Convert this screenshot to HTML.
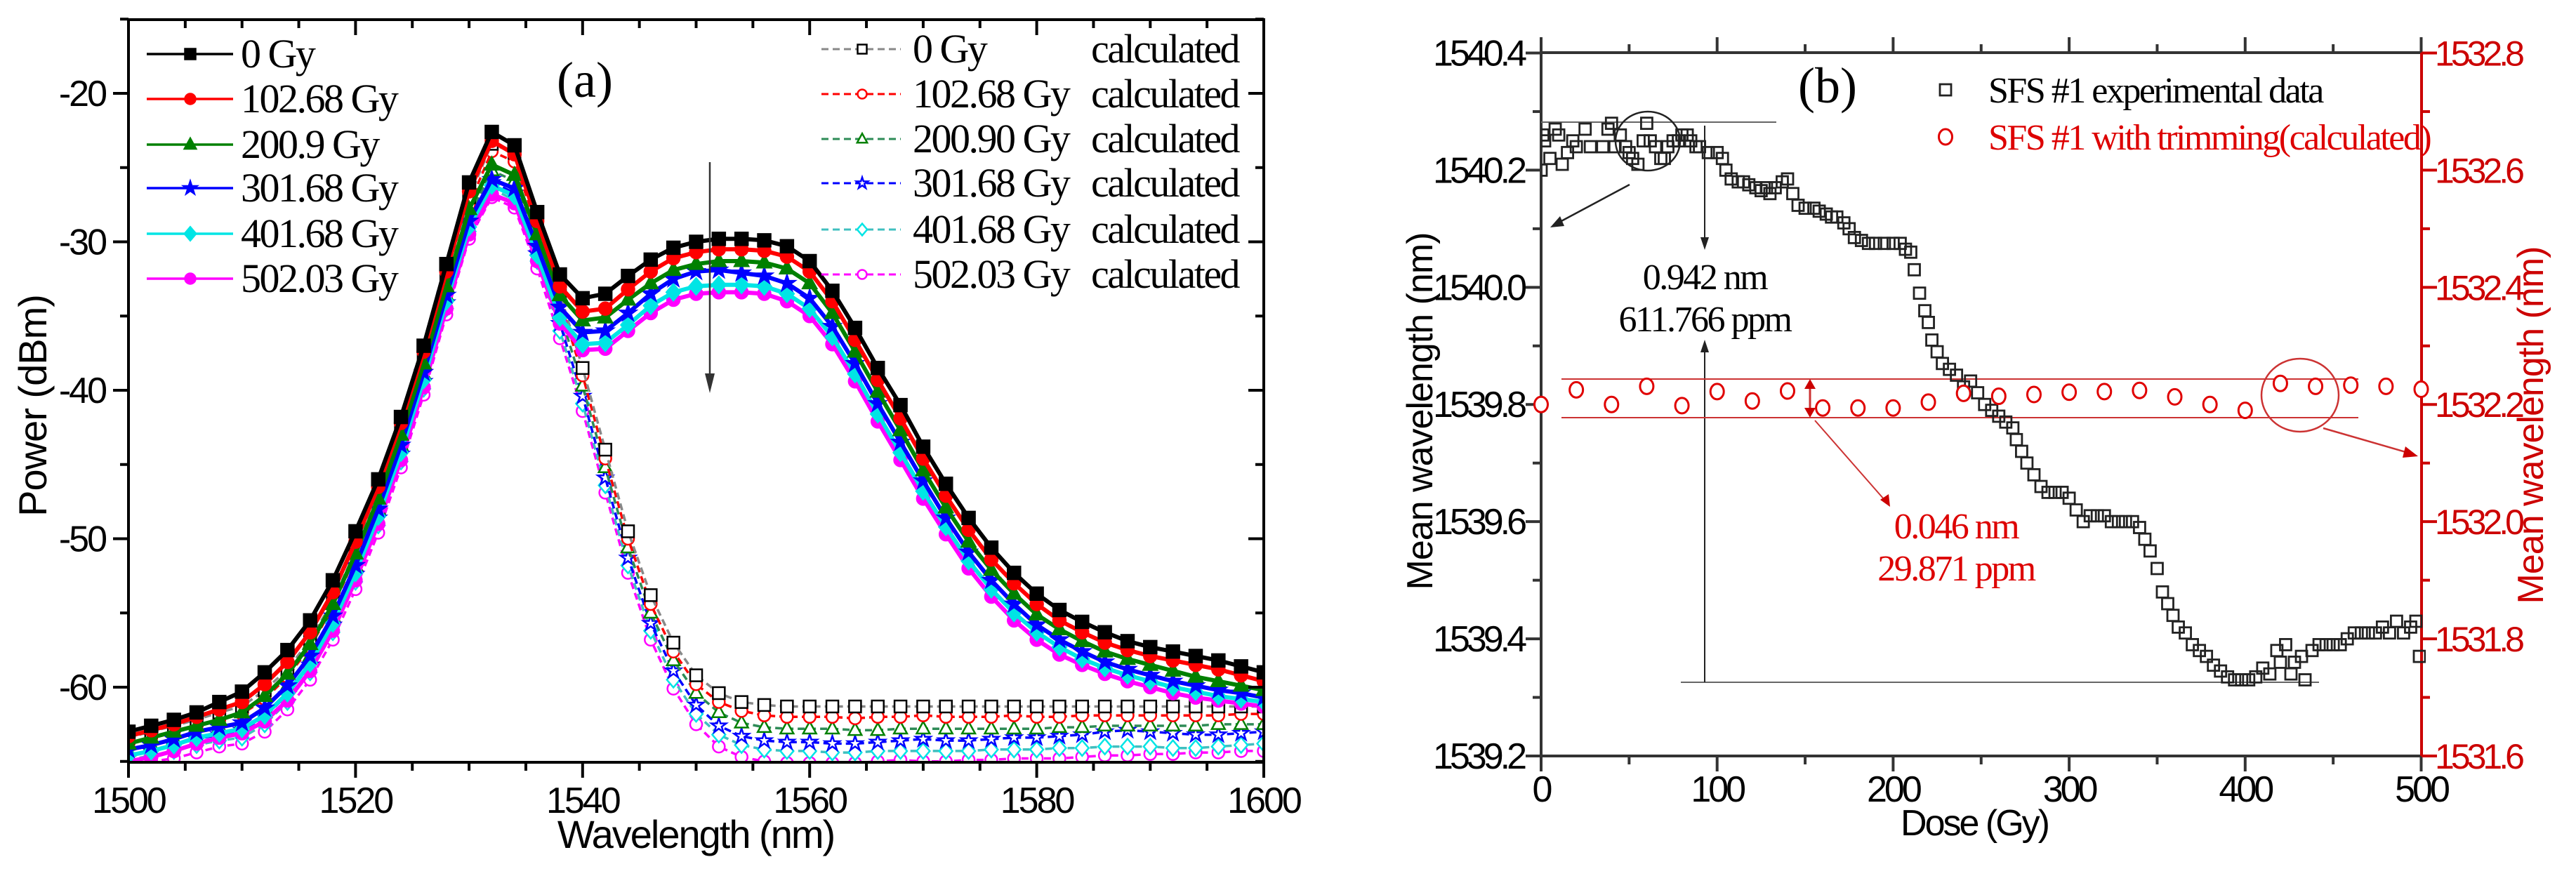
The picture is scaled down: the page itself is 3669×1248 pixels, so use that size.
<!DOCTYPE html>
<html><head><meta charset="utf-8"><style>
html,body{margin:0;padding:0;background:#fff;}
svg{display:block;}
.sans{font-family:"Liberation Sans",Arial,sans-serif;}
.serif{font-family:"Liberation Serif","Times New Roman",serif;}
</style></head><body>
<svg id="fig" width="3669" height="1248" viewBox="0 0 3669 1248" xmlns="http://www.w3.org/2000/svg">
<defs>
<clipPath id="clipA"><rect x="183" y="28" width="1617" height="1058"/></clipPath>
<clipPath id="clipB"><rect x="2195" y="75" width="1260" height="1003"/></clipPath>
</defs>
<g id="panelA"></g>
<g id="panelB"></g>
</svg>
<script>
// ---------- Panel (a) data ----------
const wl = [1500,1502,1504,1506,1508,1510,1512,1514,1516,1518,1520,1522,1524,1526,1528,1530,1532,1534,1536,1538,1540,1542,1544,1546,1548,1550,1552,1554,1556,1558,1560,1562,1564,1566,1568,1570,1572,1574,1576,1578,1580,1582,1584,1586,1588,1590,1592,1594,1596,1598,1600];
const exp0 = [-63.0,-62.6,-62.2,-61.7,-61.0,-60.3,-59.0,-57.5,-55.5,-52.8,-49.5,-46.0,-41.8,-37.0,-31.5,-26.0,-22.6,-23.5,-28.0,-32.2,-33.8,-33.5,-32.3,-31.2,-30.4,-30.0,-29.8,-29.8,-29.9,-30.3,-31.3,-33.3,-35.8,-38.5,-41.0,-43.8,-46.3,-48.6,-50.6,-52.3,-53.7,-54.8,-55.6,-56.3,-56.9,-57.3,-57.6,-57.9,-58.2,-58.6,-59.0];
const exp102 = [-63.3,-62.9,-62.5,-62.0,-61.5,-61.0,-59.8,-58.3,-56.3,-53.6,-50.2,-46.5,-42.2,-37.4,-32.0,-26.6,-23.2,-24.1,-28.6,-33.0,-34.7,-34.5,-33.2,-32.0,-31.1,-30.7,-30.5,-30.5,-30.6,-31.0,-32.0,-34.0,-36.6,-39.3,-41.9,-44.6,-47.1,-49.4,-51.4,-53.0,-54.4,-55.5,-56.3,-57.0,-57.5,-57.9,-58.2,-58.5,-58.8,-59.2,-59.6];
const exp200 = [-63.8,-63.4,-63.0,-62.6,-62.2,-61.7,-60.6,-59.1,-57.1,-54.4,-51.0,-47.3,-43.0,-38.2,-33.0,-27.8,-24.8,-25.5,-29.5,-33.6,-35.3,-35.1,-33.9,-32.8,-31.9,-31.5,-31.3,-31.3,-31.4,-31.8,-32.8,-34.8,-37.4,-40.1,-42.7,-45.4,-47.9,-50.2,-52.1,-53.7,-55.1,-56.1,-56.9,-57.6,-58.1,-58.5,-58.9,-59.3,-59.6,-59.9,-60.2];
const exp301 = [-64.2,-63.9,-63.5,-63.0,-62.7,-62.4,-61.4,-59.9,-57.9,-55.2,-51.8,-48.0,-43.7,-38.8,-33.6,-28.6,-25.8,-26.4,-30.3,-34.4,-36.1,-36.0,-34.8,-33.5,-32.5,-32.0,-31.9,-32.1,-32.3,-32.8,-33.8,-35.7,-38.2,-40.9,-43.5,-46.1,-48.6,-50.9,-52.8,-54.4,-55.8,-56.8,-57.6,-58.3,-58.8,-59.2,-59.6,-59.9,-60.2,-60.4,-60.7];
const exp401 = [-64.6,-64.3,-63.9,-63.4,-63.1,-62.8,-61.9,-60.4,-58.4,-55.7,-52.3,-48.5,-44.2,-39.3,-34.0,-29.0,-26.2,-26.9,-30.9,-35.1,-36.9,-36.8,-35.6,-34.3,-33.4,-33.0,-32.9,-32.9,-33.0,-33.5,-34.5,-36.4,-38.9,-41.6,-44.2,-46.8,-49.2,-51.5,-53.4,-55.0,-56.3,-57.3,-58.1,-58.7,-59.2,-59.6,-60.0,-60.3,-60.6,-60.8,-61.0];
const exp502 = [-65.0,-64.7,-64.3,-63.8,-63.4,-63.1,-62.3,-60.9,-58.9,-56.2,-52.8,-49.0,-44.7,-39.8,-34.5,-29.5,-26.8,-27.4,-31.3,-35.5,-37.3,-37.2,-36.0,-34.8,-33.9,-33.5,-33.4,-33.4,-33.5,-34.0,-35.0,-36.9,-39.4,-42.1,-44.7,-47.3,-49.7,-52.0,-53.9,-55.5,-56.8,-57.8,-58.5,-59.1,-59.6,-60.0,-60.4,-60.7,-60.9,-61.1,-61.3];
const calc0 = [-63.4,-63.0,-62.6,-62.2,-61.7,-61.3,-60.2,-58.8,-56.8,-54.2,-50.8,-47.0,-42.8,-38.0,-32.6,-27.0,-23.4,-24.0,-28.5,-33.5,-38.5,-44.0,-49.5,-53.8,-57.0,-59.2,-60.4,-61.0,-61.2,-61.3,-61.3,-61.3,-61.3,-61.3,-61.3,-61.3,-61.3,-61.3,-61.3,-61.3,-61.3,-61.3,-61.3,-61.3,-61.3,-61.3,-61.3,-61.3,-61.3,-61.3,-61.3];
const calc102 = [-63.8,-63.4,-63.0,-62.6,-62.2,-61.8,-60.8,-59.3,-57.3,-54.6,-51.2,-47.4,-43.1,-38.3,-33.0,-27.5,-23.9,-24.6,-29.0,-34.0,-39.0,-44.6,-50.0,-54.4,-57.6,-59.8,-61.0,-61.6,-61.9,-62.0,-62.0,-62.0,-62.1,-62.0,-62.0,-61.9,-62.0,-62.0,-62.0,-61.9,-62.0,-62.0,-61.9,-61.9,-61.9,-61.9,-61.9,-61.9,-61.9,-61.8,-61.8];
const calc200 = [-64.3,-63.9,-63.5,-63.1,-62.7,-62.4,-61.4,-59.9,-57.9,-55.2,-51.8,-48.0,-43.7,-38.9,-33.6,-28.3,-25.2,-25.9,-30.0,-34.8,-39.7,-45.2,-50.6,-55.0,-58.2,-60.4,-61.7,-62.4,-62.7,-62.8,-62.8,-62.8,-62.9,-62.9,-62.8,-62.8,-62.8,-62.8,-62.8,-62.8,-62.8,-62.7,-62.7,-62.6,-62.6,-62.6,-62.6,-62.6,-62.5,-62.5,-62.5];
const calc301 = [-64.6,-64.3,-63.9,-63.5,-63.2,-62.9,-62.0,-60.5,-58.5,-55.8,-52.4,-48.6,-44.3,-39.4,-34.1,-28.9,-26.0,-26.7,-30.8,-35.5,-40.4,-45.9,-51.3,-55.7,-58.9,-61.2,-62.6,-63.3,-63.6,-63.7,-63.7,-63.8,-63.8,-63.7,-63.6,-63.5,-63.6,-63.6,-63.5,-63.4,-63.4,-63.3,-63.2,-63.0,-62.9,-63.0,-63.1,-63.2,-63.2,-63.1,-63.0];
const calc401 = [-64.9,-64.6,-64.3,-63.9,-63.6,-63.4,-62.5,-61.0,-59.0,-56.3,-52.9,-49.1,-44.8,-39.9,-34.5,-29.3,-26.4,-27.2,-31.3,-36.0,-40.9,-46.4,-51.8,-56.2,-59.5,-61.8,-63.2,-63.9,-64.2,-64.3,-64.3,-64.4,-64.4,-64.3,-64.3,-64.3,-64.3,-64.3,-64.2,-64.2,-64.2,-64.1,-64.1,-64.0,-64.0,-64.0,-64.1,-64.1,-64.0,-63.9,-63.8];
const calc502 = [-65.3,-65.0,-64.8,-64.4,-64.0,-63.8,-63.0,-61.5,-59.5,-56.8,-53.4,-49.6,-45.2,-40.3,-34.9,-29.8,-27.0,-27.7,-31.8,-36.5,-41.4,-46.9,-52.3,-56.8,-60.1,-62.5,-64.0,-64.7,-65.0,-65.1,-65.1,-65.1,-65.1,-65.0,-64.9,-65.0,-65.0,-64.9,-64.9,-64.8,-64.8,-64.8,-64.7,-64.6,-64.6,-64.5,-64.5,-64.4,-64.4,-64.3,-64.3];
const expLabels = ["0 Gy","102.68 Gy","200.9 Gy","301.68 Gy","401.68 Gy","502.03 Gy"];
const calcLabels = ["0 Gy","102.68 Gy","200.90 Gy","301.68 Gy","401.68 Gy","502.03 Gy"];
const xTicksA = [1500,1520,1540,1560,1580,1600];
const yTicksA = [-20,-30,-40,-50,-60];

// ---------- Panel (b) data ----------
const doseExp = [0,1,2,5,8,10,12,15,18,20,25,28,35,38,40,42,45,48,50,52,55,58,60,62,65,68,70,72,75,78,80,83,85,88,90,95,100,103,105,108,112,115,118,122,125,128,130,133,137,140,143,146,150,155,158,162,165,168,172,175,178,182,186,190,195,200,204,207,210,212,215,218,220,222,225,228,232,236,240,244,248,252,256,260,264,268,270,273,276,280,284,288,292,296,300,304,308,312,316,320,324,328,332,336,340,343,346,350,353,356,359,362,366,370,374,378,382,386,390,394,398,402,406,410,414,418,420,423,426,428,432,434,438,442,446,450,454,458,462,466,470,474,478,482,486,490,494,497,499];
const wlExp = [1540.20,1540.26,1540.25,1540.22,1540.27,1540.26,1540.21,1540.23,1540.25,1540.24,1540.27,1540.24,1540.24,1540.27,1540.28,1540.24,1540.26,1540.24,1540.23,1540.22,1540.21,1540.25,1540.28,1540.25,1540.24,1540.22,1540.22,1540.24,1540.25,1540.25,1540.26,1540.26,1540.25,1540.24,1540.24,1540.23,1540.23,1540.22,1540.20,1540.185,1540.18,1540.18,1540.175,1540.17,1540.165,1540.17,1540.16,1540.17,1540.18,1540.185,1540.16,1540.14,1540.135,1540.135,1540.13,1540.125,1540.12,1540.12,1540.11,1540.10,1540.085,1540.08,1540.075,1540.075,1540.075,1540.075,1540.075,1540.065,1540.06,1540.03,1539.99,1539.96,1539.94,1539.91,1539.89,1539.87,1539.86,1539.85,1539.83,1539.84,1539.82,1539.80,1539.79,1539.78,1539.77,1539.76,1539.74,1539.72,1539.70,1539.68,1539.66,1539.65,1539.65,1539.65,1539.64,1539.62,1539.60,1539.61,1539.61,1539.61,1539.60,1539.60,1539.60,1539.60,1539.59,1539.57,1539.55,1539.52,1539.48,1539.46,1539.44,1539.42,1539.41,1539.39,1539.38,1539.37,1539.355,1539.345,1539.335,1539.33,1539.33,1539.33,1539.335,1539.35,1539.34,1539.38,1539.36,1539.39,1539.34,1539.36,1539.37,1539.33,1539.38,1539.39,1539.39,1539.39,1539.39,1539.40,1539.41,1539.41,1539.41,1539.41,1539.42,1539.41,1539.43,1539.41,1539.42,1539.43,1539.37];
const doseCalc = [0,20,40,60,80,100,120,140,160,180,200,220,240,260,280,300,320,340,360,380,400,420,440,460,480,500];
const wlCalc = [1532.200,1532.225,1532.200,1532.231,1532.198,1532.222,1532.206,1532.223,1532.194,1532.194,1532.194,1532.204,1532.219,1532.214,1532.217,1532.221,1532.222,1532.224,1532.213,1532.200,1532.190,1532.236,1532.231,1532.233,1532.231,1532.226];
const xTicksB = [0,100,200,300,400,500];
const yTicksBL = [1539.2,1539.4,1539.6,1539.8,1540.0,1540.2,1540.4];
const yTicksBR = [1531.6,1531.8,1532.0,1532.2,1532.4,1532.6,1532.8];

const NS = "http://www.w3.org/2000/svg";
function mk(parent, tag, attrs){ const e=document.createElementNS(NS,tag); for(const k in attrs) e.setAttribute(k,attrs[k]); parent.appendChild(e); return e; }

const xA = v => 183 + (v-1500)*16.17;
const yA = v => 133 + (-20-v)*21.15;
const xB = d => 2195 + d*2.507;
const yBL = v => 1077 - (v-1539.2)*834.6;
const yBR = v => 1077 - (v-1531.6)*834.6;

function marker(g, shape, x, y, s, color, filled){
  const fill = filled ? color : "#fff";
  const sw = 2.5;
  let e;
  if(shape==="square") e = mk(g,"rect",{x:x-s,y:y-s,width:2*s,height:2*s,fill:fill,stroke:color,"stroke-width":sw});
  else if(shape==="circle") e = mk(g,"circle",{cx:x,cy:y,r:s,fill:fill,stroke:color,"stroke-width":sw});
  else if(shape==="tri") e = mk(g,"polygon",{points:`${x},${y-s*1.2} ${x+s*1.1},${y+s*0.8} ${x-s*1.1},${y+s*0.8}`,fill:fill,stroke:color,"stroke-width":sw});
  else if(shape==="diamond") e = mk(g,"polygon",{points:`${x},${y-s*1.3} ${x+s*1.1},${y} ${x},${y+s*1.3} ${x-s*1.1},${y}`,fill:fill,stroke:color,"stroke-width":sw});
  else if(shape==="star"){ let p=[]; for(let i=0;i<10;i++){const r=i%2?s*0.5:s*1.3; const a=-Math.PI/2+i*Math.PI/5; p.push((x+r*Math.cos(a)).toFixed(1)+","+(y+r*Math.sin(a)).toFixed(1));} e = mk(g,"polygon",{points:p.join(" "),fill:fill,stroke:color,"stroke-width":sw}); }
  return e;
}

// ================= Panel A =================
const A = document.getElementById("panelA");
const expSeries = [exp0,exp102,exp200,exp301,exp401,exp502];
const calcSeries = [calc0,calc102,calc200,calc301,calc401,calc502];
const colors = ["#000000","#ff0000","#008000","#0000ff","#00e5e5","#ff00ff"];
const calcLineColors = ["#888888","#ff0000","#2e8b57","#0000ff","#40bfbf","#ff00ff"];
const shapesExp = ["square","circle","tri","star","diamond","circle"];
const shapesCalc = ["square","circle","tri","star","diamond","circle"];

const dataA = mk(A,"g",{"clip-path":"url(#clipA)"});



for(let k=5;k>=0;k--){
  const g = mk(dataA,"g",{});
  
  
  const pts = wl.map((w,i)=>xA(w).toFixed(1)+","+yA(calcSeries[k][i]).toFixed(1)).join(" ");
  mk(g,"polyline",{points:pts,fill:"none",stroke:calcLineColors[k],"stroke-width":3.5,"stroke-dasharray":"10,6"});
  wl.forEach((w,i)=>{ const m = marker(g,shapesCalc[k],xA(w),yA(calcSeries[k][i]),8.5,colors[k],false);
    
     });
}
for(let k=5;k>=0;k--){
  const g = mk(dataA,"g",{});
  
  
  const pts = wl.map((w,i)=>xA(w).toFixed(1)+","+yA(expSeries[k][i]).toFixed(1)).join(" ");
  mk(g,"polyline",{points:pts,fill:"none",stroke:colors[k],"stroke-width":6});
  wl.forEach((w,i)=>{ const m = marker(g,shapesExp[k],xA(w),yA(expSeries[k][i]),9,colors[k],true);
    
     });
}

const axA = mk(A,"g",{stroke:"#000","stroke-width":4,fill:"none"});


mk(axA,"rect",{x:183,y:28,width:1617,height:1058});
for(let v=1500; v<=1600; v+=5){
  const big = (v%20===0); const len = big?22:12;
  mk(axA,"line",{x1:xA(v),y1:1086,x2:xA(v),y2:1086+len});
  mk(axA,"line",{x1:xA(v),y1:28,x2:xA(v),y2:28+len});
}
for(let v=-65; v<=-15; v+=5){
  const big = (v%10===0); const len = big?22:12;
  mk(axA,"line",{x1:183,y1:yA(v),x2:183-len,y2:yA(v)});
  mk(axA,"line",{x1:1800,y1:yA(v),x2:1800-len,y2:yA(v)});
}
xTicksA.forEach(v=>{ const t = mk(A,"text",{x:xA(v),y:1158,"text-anchor":"middle","font-size":52,class:"sans","letter-spacing":"-3"}); t.textContent=v;
  
   });
yTicksA.forEach(v=>{ const t = mk(A,"text",{x:150,y:yA(v)+18,"text-anchor":"end","font-size":52,class:"sans","letter-spacing":"-3"}); t.textContent=v;
  
   });
{ const t = mk(A,"text",{x:991,y:1208,"text-anchor":"middle","font-size":56,class:"sans","letter-spacing":"-2"}); t.textContent="Wavelength (nm)";
  
   }
{ const t = mk(A,"text",{x:0,y:0,"text-anchor":"middle","font-size":56,class:"sans","letter-spacing":"-1",transform:"translate(66,578) rotate(-90)"}); t.textContent="Power (dBm)";
  
   }
{ const t = mk(A,"text",{x:833,y:138,"text-anchor":"middle","font-size":72,class:"serif"}); t.textContent="(a)";
  
   }
mk(A,"line",{x1:1011,y1:231,x2:1011,y2:545,stroke:"#333","stroke-width":2.5});
mk(A,"polygon",{points:"1004,532 1018,532 1011,560",fill:"#333"});

const legY = [77,141,206,268,333,397];
expLabels.forEach((lab,k)=>{
  const g = mk(A,"g",{});
  
  
  mk(g,"line",{x1:209,y1:legY[k],x2:332,y2:legY[k],stroke:colors[k],"stroke-width":3.5});
  marker(g,shapesExp[k],271,legY[k],7.5,colors[k],true);
  const t = mk(g,"text",{x:343,y:legY[k]+19,"font-size":58,class:"serif","letter-spacing":"-2.5"}); t.textContent=lab;
});
const legY2 = [70,134,198,261,327,391];
calcLabels.forEach((lab,k)=>{
  const g = mk(A,"g",{});
  
  
  mk(g,"line",{x1:1170,y1:legY2[k],x2:1283,y2:legY2[k],stroke:calcLineColors[k],"stroke-width":3,"stroke-dasharray":"10,6"});
  marker(g,shapesCalc[k],1228,legY2[k],6.5,colors[k],false);
  const t = mk(g,"text",{x:1300,y:legY2[k]+19,"font-size":58,class:"serif","letter-spacing":"-2.5"}); t.textContent=lab;
  const t2 = mk(g,"text",{x:1554,y:legY2[k]+19,"font-size":58,class:"serif","letter-spacing":"-2.5"}); t2.textContent="calculated";
});

// ================= Panel B =================
const B = document.getElementById("panelB");
const axB = mk(B,"g",{"stroke-width":4,fill:"none"});


mk(axB,"line",{x1:2195,y1:75,x2:3449,y2:75,stroke:"#333"});
mk(axB,"line",{x1:2195,y1:1077,x2:3449,y2:1077,stroke:"#333"});
mk(axB,"line",{x1:2195,y1:75,x2:2195,y2:1077,stroke:"#333"});
mk(axB,"line",{x1:3449,y1:75,x2:3449,y2:1077,stroke:"#cc0000"});
for(let d=0; d<=500; d+=50){
  const big=(d%100===0); const len=big?22:12;
  mk(axB,"line",{x1:xB(d),y1:1077,x2:xB(d),y2:1077+len,stroke:"#333"});
  mk(axB,"line",{x1:xB(d),y1:75,x2:xB(d),y2:75-len,stroke:"#333"});
}
for(let i=0;i<=12;i++){
  const v=1539.2+i*0.1; const big=(i%2===0); const len=big?22:12;
  mk(axB,"line",{x1:2195,y1:yBL(v),x2:2195-len,y2:yBL(v),stroke:"#333"});
  const v2=1531.6+i*0.1;
  mk(axB,"line",{x1:3449,y1:yBR(v2),x2:3449+len,y2:yBR(v2),stroke:"#cc0000"});
}
xTicksB.forEach(v=>{ const t=mk(B,"text",{x:xB(v),y:1142,"text-anchor":"middle","font-size":52,class:"sans","letter-spacing":"-4"}); t.textContent=v;
  
   });
yTicksBL.forEach(v=>{ const t=mk(B,"text",{x:2170,y:yBL(v)+18,"text-anchor":"end","font-size":52,class:"sans","letter-spacing":"-5"}); t.textContent=v.toFixed(1);
  
   });
yTicksBR.forEach(v=>{ const t=mk(B,"text",{x:3468,y:yBR(v)+18,"font-size":50,fill:"#cc0000",class:"sans","letter-spacing":"-5"}); t.textContent=v.toFixed(1);
  
   });
{ const t=mk(B,"text",{x:2812,y:1190,"text-anchor":"middle","font-size":52,class:"sans","letter-spacing":"-3"}); t.textContent="Dose (Gy)";
  
   }
{ const t=mk(B,"text",{x:0,y:0,"text-anchor":"middle","font-size":52,class:"sans","letter-spacing":"-1",transform:"translate(2040,586) rotate(-90)"}); t.textContent="Mean wavelength (nm)";
  
   }
{ const t=mk(B,"text",{x:0,y:0,"text-anchor":"middle","font-size":52,fill:"#cc0000",class:"sans","letter-spacing":"-1",transform:"translate(3622,606) rotate(-90)"}); t.textContent="Mean wavelength (nm)";
  
   }
{ const t=mk(B,"text",{x:2603,y:146,"text-anchor":"middle","font-size":72,class:"serif"}); t.textContent="(b)";
  
   }

const an = mk(B,"g",{stroke:"#666","stroke-width":2,fill:"none"});


mk(an,"line",{x1:2195,y1:174,x2:2530,y2:174});
mk(an,"line",{x1:2394,y1:972,x2:3303,y2:972});
mk(an,"line",{x1:2428,y1:179,x2:2428,y2:340,stroke:"#222"});
mk(an,"line",{x1:2428,y1:500,x2:2428,y2:972,stroke:"#222"});
mk(an,"ellipse",{cx:2347,cy:201,rx:46,ry:42,stroke:"#222","stroke-width":2.5});
mk(an,"line",{x1:2321,y1:263,x2:2220,y2:317,stroke:"#222","stroke-width":2.5});
mk(B,"polygon",{points:"2422,338 2434,338 2428,356",fill:"#222"});
mk(B,"polygon",{points:"2422,502 2434,502 2428,484",fill:"#222"});
mk(B,"polygon",{points:"2208,324 2222,308 2228,322",fill:"#222"});
[["0.942 nm",412],["611.766 ppm",472]].forEach(([s,y])=>{ const t=mk(B,"text",{x:2428,y:y,"text-anchor":"middle","font-size":52,class:"serif","letter-spacing":"-2.5"}); t.textContent=s;
  
   });

const ar = mk(B,"g",{stroke:"#cc3333","stroke-width":2,fill:"none"});


mk(ar,"line",{x1:2224,y1:540,x2:3359,y2:540});
mk(ar,"line",{x1:2224,y1:595,x2:3359,y2:595});
mk(ar,"line",{x1:2578,y1:550,x2:2578,y2:585,"stroke-width":3});
mk(ar,"line",{x1:2585,y1:599,x2:2684,y2:712});
mk(ar,"ellipse",{cx:3276,cy:563,rx:55,ry:52,"stroke-width":2.5});
mk(ar,"line",{x1:3309,y1:610,x2:3430,y2:645,"stroke-width":2.5});
mk(B,"polygon",{points:"2570,554 2586,554 2578,540",fill:"#cc0000"});
mk(B,"polygon",{points:"2570,581 2586,581 2578,595",fill:"#cc0000"});
mk(B,"polygon",{points:"2678,712 2690,704 2692,722",fill:"#cc0000"});
mk(B,"polygon",{points:"3426,636 3422,652 3444,650",fill:"#cc0000"});
[["0.046 nm",767],["29.871 ppm",827]].forEach(([s,y])=>{ const t=mk(B,"text",{x:2786,y:y,"text-anchor":"middle","font-size":52,fill:"#dd0000",class:"serif","letter-spacing":"-2.5"}); t.textContent=s;
  
   });

const dataB = mk(B,"g",{"clip-path":"url(#clipB)"});


doseExp.forEach((d,i)=>{ const r=mk(dataB,"rect",{x:xB(d)-8,y:yBL(wlExp[i])-8,width:16,height:16,fill:"none",stroke:"#222","stroke-width":2.8});
  
   });
doseCalc.forEach((d,i)=>{ const c=mk(B,"ellipse",{cx:xB(d),cy:yBR(wlCalc[i]),rx:9.5,ry:11,fill:"#fff",stroke:"#e00000","stroke-width":3});
  
   });

{ const g=mk(B,"g",{});  
  mk(g,"rect",{x:2763,y:120,width:16,height:16,fill:"none",stroke:"#222","stroke-width":2.8});
  const t=mk(g,"text",{x:2832,y:146,"font-size":52,class:"serif","letter-spacing":"-2.5"}); t.textContent="SFS #1 experimental data"; }
{ const g=mk(B,"g",{});  
  mk(g,"ellipse",{cx:2771,cy:195,rx:9.5,ry:11,fill:"none",stroke:"#e00000","stroke-width":3});
  const t=mk(g,"text",{x:2832,y:213,"font-size":52,fill:"#dd0000",class:"serif","letter-spacing":"-2.5"}); t.textContent="SFS #1 with trimming(calculated)"; }
</script>
</body></html>
